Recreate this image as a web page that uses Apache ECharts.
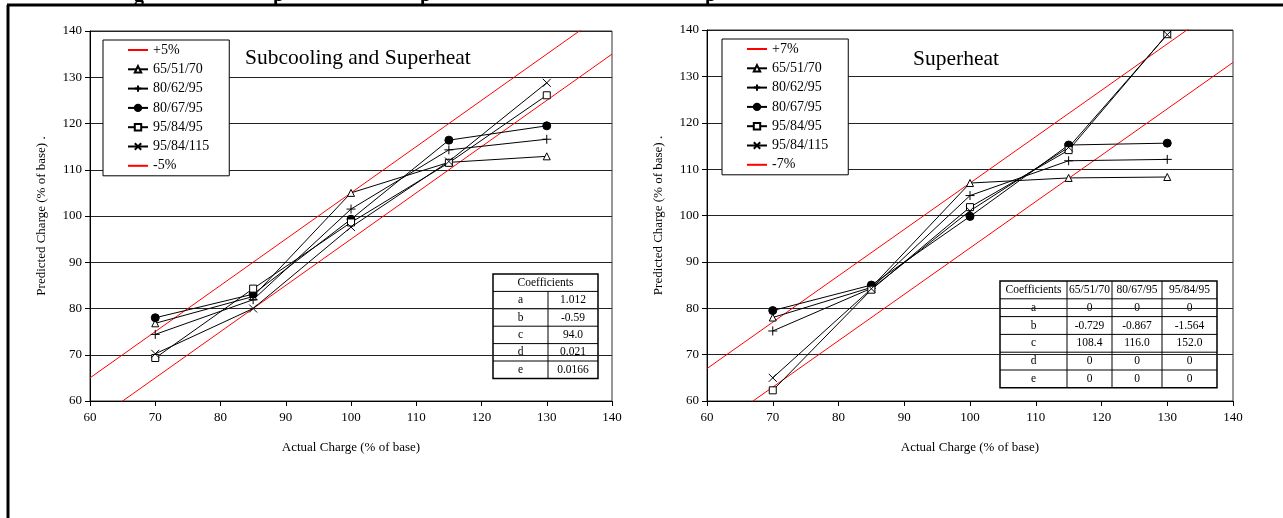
<!DOCTYPE html>
<html>
<head>
<meta charset="utf-8">
<script src="https://cdn.jsdelivr.net/npm/echarts@6/dist/echarts.min.js"></script>
<style>
  html, body { margin: 0; padding: 0; background: #fff; }
  #main { width: 1283px; height: 518px; }
</style>
</head>
<body>
<div id="main"></div>
<script>
// actual charge (% of base) - same for every test condition
var actualCharge = [70, 85, 100, 115, 130];

// subcooling and superheat method
var sc_655170 = [76.8, 82.6, 105.0, 111.6, 112.9];
var sc_806295 = [74.4, 81.9, 101.5, 114.3, 116.6];
var sc_806795 = [78.0, 83.1, 99.3, 116.4, 119.5];
var sc_958495 = [69.3, 84.3, 98.6, 111.5, 126.1];
var sc_9584115 = [70.2, 80.0, 97.6, 111.8, 128.8];

// superheat method
var sh_655170 = [78.0, 84.5, 107.0, 108.1, 108.3];
var sh_806295 = [75.1, 84.3, 104.3, 111.8, 112.1];
var sh_806795 = [79.5, 85.0, 99.8, 115.2, 115.6];
var sh_958495 = [62.3, 84.0, 101.8, 114.1, 139.1];
var sh_9584115 = [65.0, 84.2, 101.0, 114.7, 139.0];

// error band end points (x at 60 and 140)
var bandX = [60, 140];
var plus5 = [65, 145];
var minus5 = [55, 135];
var plus7 = [67, 147];
var minus7 = [53, 133];

// coefficient tables
var coefNames = ['a', 'b', 'c', 'd', 'e'];
var scCoefs = ['1.012', '-0.59', '94.0', '0.021', '0.0166'];
var shHeaders = ['65/51/70', '80/67/95', '95/84/95'];
var shCoefs655170 = ['0', '-0.729', '108.4', '0', '0'];
var shCoefs806795 = ['0', '-0.867', '116.0', '0', '0'];
var shCoefs958495 = ['0', '-1.564', '152.0', '0', '0'];

var FONT = '"Liberation Serif", "DejaVu Serif", serif';

function pairs(xs, ys) {
  var out = [];
  for (var i = 0; i < xs.length; i++) out.push([xs[i], ys[i]]);
  return out;
}

var PLUS = 'path://M5,0L5,10M0,5L10,5';
var CROSS = 'path://M0,0L10,10M10,0L0,10';

function testSeries(name, ys, idx) {
  var sym, size = 7, fill = '#fff';
  if (name === '65/51/70') { sym = 'triangle'; }
  else if (name === '80/62/95') { sym = PLUS; size = 9; fill = 'transparent'; }
  else if (name === '80/67/95') { sym = 'circle'; fill = '#000'; size = 8; }
  else if (name === '95/84/95') { sym = 'rect'; }
  else { sym = CROSS; size = 8; fill = 'transparent'; }
  return {
    name: name,
    type: 'line',
    xAxisIndex: idx,
    yAxisIndex: idx,
    data: pairs(actualCharge, ys),
    symbol: sym,
    symbolSize: size,
    showAllSymbol: true,
    lineStyle: { color: '#000', width: 1 },
    itemStyle: { color: fill, borderColor: '#000', borderWidth: 1 },
    emphasis: { disabled: true },
    z: 3
  };
}

function bandSeries(name, ys, idx) {
  return {
    name: name,
    type: 'line',
    xAxisIndex: idx,
    yAxisIndex: idx,
    data: pairs(bandX, ys),
    symbol: 'none',
    clip: true,
    lineStyle: { color: '#ff0000', width: 1 },
    itemStyle: { color: '#ff0000' },
    emphasis: { disabled: true },
    z: 2
  };
}

function makeXAxis(idx) {
  return {
    type: 'value',
    gridIndex: idx,
    min: 60, max: 140, interval: 10,
    name: 'Actual Charge (% of base)',
    nameLocation: 'middle',
    nameGap: 40,
    nameTextStyle: { color: '#000', fontFamily: FONT, fontSize: 13 },
    axisLine: { lineStyle: { color: '#000' } },
    axisTick: { show: true, length: 5, lineStyle: { color: '#000' } },
    axisLabel: { color: '#000', fontFamily: FONT, fontSize: 13, margin: 10 },
    splitLine: { show: false }
  };
}

function makeYAxis(idx) {
  return {
    type: 'value',
    gridIndex: idx,
    min: 60, max: 140, interval: 10,
    name: 'Predicted Charge (% of base) .',
    nameLocation: 'middle',
    nameGap: 42,
    nameTextStyle: { color: '#000', fontFamily: FONT, fontSize: 13 },
    axisLine: { show: true, lineStyle: { color: '#000' } },
    axisTick: { show: true, length: 5, lineStyle: { color: '#000' } },
    axisLabel: { color: '#000', fontFamily: FONT, fontSize: 13, margin: 8 },
    splitLine: { show: true, lineStyle: { color: '#222', width: 1 } }
  };
}

// coefficient table built from rows of cell texts
function makeTable(x0, y0, colX, rowH, header, rows, fontSize) {
  var kids = [];
  var right = colX[colX.length - 1];
  var nRows = rows.length + 1;
  kids.push({ type: 'rect', shape: { x: x0, y: y0, width: right - x0, height: rowH * nRows },
    style: { fill: '#fff', stroke: '#000', lineWidth: 1.5 } });
  for (var r = 1; r < nRows; r++) {
    kids.push({ type: 'line', shape: { x1: x0, y1: y0 + r * rowH, x2: right, y2: y0 + r * rowH },
      style: { stroke: '#000', lineWidth: 1 } });
  }
  var edges = [x0].concat(colX);
  for (var c = 1; c < edges.length - 1; c++) {
    var startRow = header.length === 1 ? 1 : 0;
    kids.push({ type: 'line', shape: { x1: edges[c], y1: y0 + startRow * rowH, x2: edges[c], y2: y0 + nRows * rowH },
      style: { stroke: '#000', lineWidth: 1 } });
  }
  function cell(txt, cx, cy) {
    kids.push({ type: 'text', x: cx, y: cy,
      style: { text: txt, fill: '#000', font: fontSize + 'px ' + FONT, align: 'center', verticalAlign: 'middle' } });
  }
  if (header.length === 1) {
    cell(header[0], (x0 + right) / 2, y0 + rowH / 2);
  } else {
    for (var h = 0; h < header.length; h++) cell(header[h], (edges[h] + edges[h + 1]) / 2, y0 + rowH / 2);
  }
  for (var i = 0; i < rows.length; i++) {
    for (var j = 0; j < rows[i].length; j++) {
      cell(rows[i][j], (edges[j] + edges[j + 1]) / 2, y0 + (i + 1.5) * rowH);
    }
  }
  return { type: 'group', z: 10, children: kids };
}

var scRows = [], shRows = [];
for (var k = 0; k < coefNames.length; k++) {
  scRows.push([coefNames[k], scCoefs[k]]);
  shRows.push([coefNames[k], shCoefs655170[k], shCoefs806795[k], shCoefs958495[k]]);
}

// legend entries: band lines drawn without marker
function legendData(names) {
  return names.map(function (n) {
    if (n.indexOf('%') >= 0) return { name: n, itemStyle: { opacity: 0 } };
    return { name: n };
  });
}

var legendStyle = {
  orient: 'vertical',
  itemGap: 5.3,
  itemWidth: 20,
  itemHeight: 8,
  padding: [3, 20, 3, 24],
  backgroundColor: '#fff',
  borderColor: '#000',
  borderWidth: 1,
  textStyle: { color: '#000', fontFamily: FONT, fontSize: 14 },
  selectedMode: false
};

var chart = echarts.init(document.getElementById('main'), null, { renderer: 'canvas' });

chart.setOption({
  backgroundColor: '#fff',
  animation: false,
  title: [
    { text: 'Subcooling and Superheat', left: 240, top: 42,
      textStyle: { color: '#000', fontFamily: FONT, fontSize: 21.5, fontWeight: 'normal' } },
    { text: 'Superheat', left: 908, top: 43,
      textStyle: { color: '#000', fontFamily: FONT, fontSize: 21.5, fontWeight: 'normal' } }
  ],
  legend: [
    Object.assign({ left: 103, top: 40,
      data: legendData(['+5%', '65/51/70', '80/62/95', '80/67/95', '95/84/95', '95/84/115', '-5%']) }, legendStyle),
    Object.assign({ left: 722, top: 39,
      data: legendData(['+7%', '65/51/70', '80/62/95', '80/67/95', '95/84/95', '95/84/115', '-7%']) }, legendStyle)
  ],
  grid: [
    { left: 90, top: 31, width: 522, height: 370, show: true, borderColor: '#333', borderWidth: 1 },
    { left: 707, top: 30, width: 526, height: 371, show: true, borderColor: '#333', borderWidth: 1 }
  ],
  xAxis: [makeXAxis(0), makeXAxis(1)],
  yAxis: [makeYAxis(0), makeYAxis(1)],
  series: [
    bandSeries('+5%', plus5, 0),
    testSeries('65/51/70', sc_655170, 0),
    testSeries('80/62/95', sc_806295, 0),
    testSeries('80/67/95', sc_806795, 0),
    testSeries('95/84/95', sc_958495, 0),
    testSeries('95/84/115', sc_9584115, 0),
    bandSeries('-5%', minus5, 0),
    bandSeries('+7%', plus7, 1),
    testSeries('65/51/70', sh_655170, 1),
    testSeries('80/62/95', sh_806295, 1),
    testSeries('80/67/95', sh_806795, 1),
    testSeries('95/84/95', sh_958495, 1),
    testSeries('95/84/115', sh_9584115, 1),
    bandSeries('-7%', minus7, 1)
  ],
  graphic: [
    // page frame
    { type: 'line', shape: { x1: 7, y1: 5, x2: 1283, y2: 5 }, style: { stroke: '#000', lineWidth: 3 } },
    { type: 'line', shape: { x1: 8, y1: 5, x2: 8, y2: 518 }, style: { stroke: '#000', lineWidth: 3 } },
    // cut off heading (only descenders visible)
    { type: 'text', x: 134, y: -14, style: { text: 'g', fill: '#000', font: 'bold 20px ' + FONT } },
    { type: 'text', x: 273, y: -14, style: { text: 'p', fill: '#000', font: 'bold 20px ' + FONT } },
    { type: 'text', x: 420, y: -14, style: { text: 'p', fill: '#000', font: 'bold 20px ' + FONT } },
    { type: 'text', x: 705, y: -14, style: { text: 'p', fill: '#000', font: 'bold 20px ' + FONT } },
    makeTable(493, 274, [548, 598], 17.4, ['Coefficients'], scRows, 11.5),
    makeTable(1000, 281, [1067, 1112, 1162, 1217], 17.8, ['Coefficients'].concat(shHeaders), shRows, 11.5)
  ]
});
</script>
</body>
</html>
